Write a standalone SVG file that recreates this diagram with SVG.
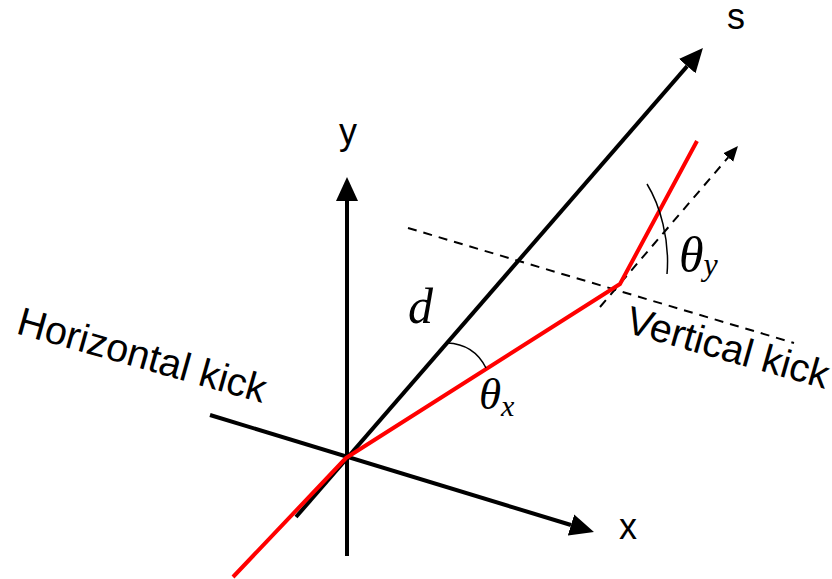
<svg xmlns="http://www.w3.org/2000/svg" width="832" height="579" viewBox="0 0 832 579">
  <defs>
    <marker id="arrow" markerUnits="userSpaceOnUse" markerWidth="26" markerHeight="24" viewBox="0 -12 26 24" refX="0" refY="0" orient="auto">
      <path d="M0,-11 L24,0 L0,11 z" fill="#000"/>
    </marker>
    <marker id="arrowSmall" markerUnits="userSpaceOnUse" markerWidth="18" markerHeight="16" viewBox="0 -8 18 16" refX="0" refY="0" orient="auto">
      <path d="M0,-6.5 L15,0 L0,6.5 z" fill="#000"/>
    </marker>
  </defs>
  <style>
    .axis { stroke: #000; stroke-width: 4; fill: none; }
    .dash { stroke: #000; stroke-width: 2; fill: none; stroke-dasharray: 9 7; }
    .beam { stroke: #ff0000; stroke-width: 4; fill: none; stroke-linejoin: round; }
    .arc { stroke: #000; stroke-width: 1.5; fill: none; }
    .sans { font-family: "Liberation Sans", Arial, sans-serif; fill: #000; }
    .math { font-family: "Liberation Serif", "Times New Roman", serif; font-style: italic; fill: #000; }
  </style>
  <rect width="832" height="579" fill="#fff"/>

  <g id="connectors">
    <!-- s axis -->
    <line class="axis" x1="296" y1="517" x2="687.2" y2="66.1" marker-end="url(#arrow)"/>
    <!-- y axis -->
    <line class="axis" x1="347" y1="556" x2="347" y2="201" marker-end="url(#arrow)"/>
    <!-- x axis / horizontal kick line -->
    <line class="axis" x1="210" y1="415" x2="571" y2="525" marker-end="url(#arrow)"/>
    <!-- vertical kick plane (dashed) -->
    <line class="dash" x1="408" y1="228" x2="794" y2="343"/>
    <!-- dashed continuation arrow -->
    <line class="dash" x1="600" y1="307" x2="728.2" y2="157.4" marker-end="url(#arrowSmall)"/>
    <!-- red beam trajectory -->
    <polyline class="beam" points="233,577 346,458 620,284 697,141"/>
    <!-- angle arcs -->
    <path class="arc" d="M447,343 Q474,344 486,368"/>
    <path class="arc" d="M647,184 C660,205 670,240 667,274"/>
  </g>

  <g id="label-s"><text class="sans" x="727" y="29" font-size="36">s</text></g>
  <g id="label-y"><text class="sans" x="339" y="144" font-size="36">y</text></g>
  <g id="label-x"><text class="sans" x="619" y="539" font-size="36">x</text></g>
  <g id="label-d"><text class="math" x="408" y="323" font-size="50">d</text></g>
  <g id="label-theta-x">
    <text class="math" x="479" y="409" font-size="45">θ<tspan font-size="30" dy="7">x</tspan></text>
  </g>
  <g id="label-theta-y">
    <text class="math" x="679" y="272" font-size="50">θ<tspan font-size="32" dy="3">y</tspan></text>
  </g>
  <g id="label-horizontal-kick">
    <text class="sans" font-size="39.5" transform="translate(15,333) rotate(15.8)">Horizontal kick</text>
  </g>
  <g id="label-vertical-kick">
    <text class="sans" font-size="39.5" transform="translate(624,332) rotate(15.8)">Vertical kick</text>
  </g>
</svg>
